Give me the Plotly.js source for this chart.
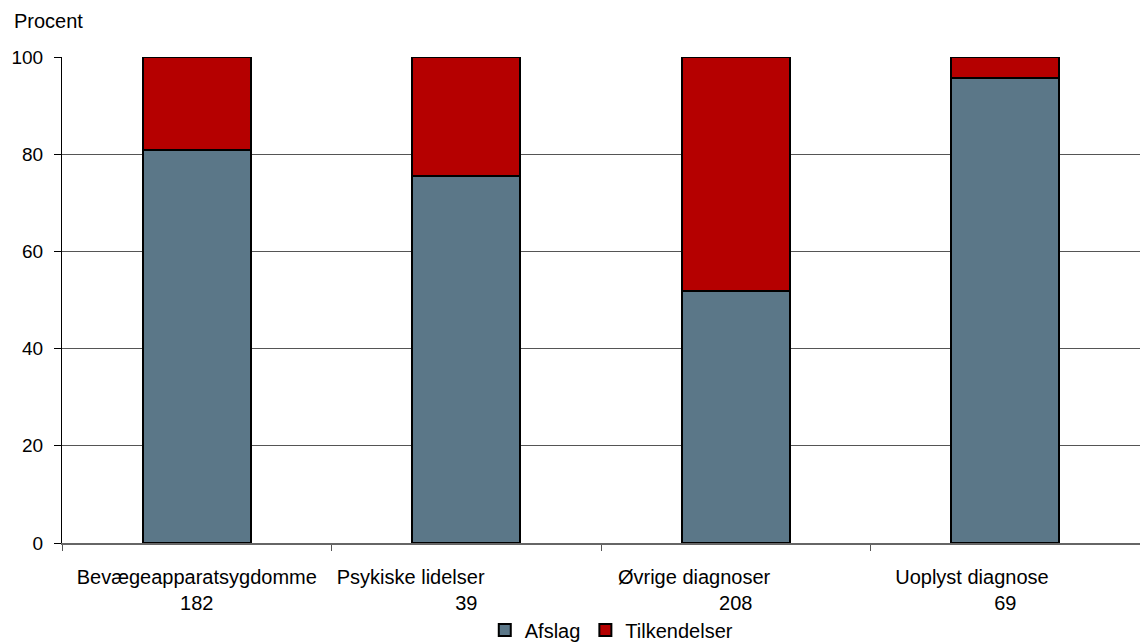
<!DOCTYPE html>
<html>
<head>
<meta charset="utf-8">
<script src="https://cdn.plot.ly/plotly-3.0.1.min.js"></script>
<style>html,body{margin:0;padding:0;background:#fff;}#chart{width:1140px;height:643px;}</style>
</head>
<body>
<div id="chart"></div>
<script>
const categories = ["Bevægeapparatsygdomme", "Psykiske lidelser", "Øvrige diagnoser", "Uoplyst diagnose"];
const counts = ["182", "39", "208", "69"];
const afslag = [80.8, 75.6, 51.9, 95.7];
const tilkendelser = [19.2, 24.4, 48.1, 4.3];
const padCounts = [0, 20, 15, 12];

const NB = "\u00a0";
const ticktext = categories.map((c, i) => c + NB.repeat(padCounts[i]) + "<br>" + counts[i]);

const fam = "Liberation Sans, Arial, sans-serif";
const font = {family: fam, size: 20, color: "#000"};
const yfont = {family: fam, size: 19, color: "#000"};

const traces = [
  {type: "bar", name: "Afslag", x: categories, y: afslag,
   marker: {color: "#5B7788", line: {color: "#000", width: 2}}},
  {type: "bar", name: "Tilkendelser", x: categories, y: tilkendelser,
   marker: {color: "#B50000", line: {color: "#000", width: 2}}}
];

const layout = {
  width: 1140, height: 643,
  barmode: "stack", bargap: 0.6,
  margin: {l: 62, r: 0, t: 57, b: 100},
  paper_bgcolor: "#fff", plot_bgcolor: "#fff",
  font: font,
  showlegend: true,
  legend: {orientation: "h", x: 0.51, xanchor: "center", xref: "paper",
           y: 13 / 643, yanchor: "middle", yref: "container", bgcolor: "rgba(0,0,0,0)",
           font: font, traceorder: "normal", itemwidth: 30},
  xaxis: {type: "category", tickvals: categories, ticktext: ticktext,
          tickson: "boundaries", ticks: "outside", ticklen: 6, tickcolor: "#555",
          showline: true, linecolor: "#666", linewidth: 2, showgrid: false,
          tickfont: font, ticklabelstandoff: 15, automargin: false},
  yaxis: {range: [0, 100], tickvals: [0, 20, 40, 60, 80, 100], ticks: "outside", ticklen: 7,
          tickcolor: "#000", showline: true, linecolor: "#000", linewidth: 1,
          showgrid: true, gridcolor: "#555", gridwidth: 1, zeroline: false,
          tickfont: yfont, ticklabelstandoff: 7, automargin: false},
  annotations: [{text: "Procent", xref: "paper", yref: "paper", x: -50/1078, y: 1 + 36/486,
                 xanchor: "left", yanchor: "middle", showarrow: false, font: font}]
};

Plotly.newPlot("chart", traces, layout, {displayModeBar: false, staticPlot: true});
</script>
</body>
</html>
